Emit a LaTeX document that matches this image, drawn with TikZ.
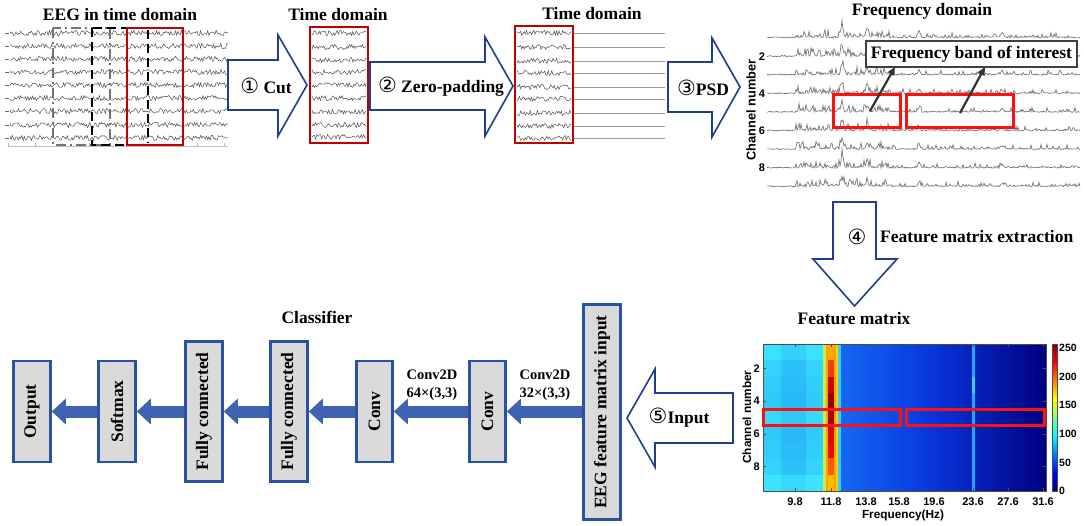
\documentclass[tikz,border=0pt]{standalone}
\usepackage{fontspec}
\setmainfont{Liberation Serif}
\setsansfont{Liberation Sans}
\newfontfamily\dejavu{DejaVu Sans}
\usetikzlibrary{arrows.meta}
\definecolor{navy}{HTML}{1F3E8E}
\definecolor{boxblue}{HTML}{2A52A3}
\definecolor{arrblue}{HTML}{3F63B0}
\definecolor{boxgray}{HTML}{DADADA}
\definecolor{darkred}{HTML}{C00000}
\definecolor{brightred}{HTML}{FF1010}
\definecolor{hmcyan}{HTML}{3CE4FF}
\definecolor{hmlb}{HTML}{1A96F2}
\definecolor{hmyg}{HTML}{C8F040}
\definecolor{hmor}{HTML}{FFA000}
\definecolor{hmortwo}{HTML}{FFD000}
\definecolor{hmred}{HTML}{F01000}
\definecolor{hmdark}{HTML}{800000}
\definecolor{hmcytwo}{HTML}{38CCFF}
\definecolor{hmbone}{HTML}{1468F4}
\definecolor{hmbtwo}{HTML}{0836DC}
\definecolor{hmbthree}{HTML}{000080}
\definecolor{hmspike}{HTML}{1EA8FF}
\definecolor{jeta}{HTML}{00008F}
\definecolor{jetb}{HTML}{0000FF}
\definecolor{jetc}{HTML}{00FFFF}
\definecolor{jetd}{HTML}{FFFF00}
\definecolor{jete}{HTML}{FF0000}
\definecolor{jetf}{HTML}{800000}
\tikzset{
 ttl/.style={font=\fontsize{17.5}{20}\selectfont\bfseries, inner sep=0pt},
 small/.style={font=\fontsize{14.5}{18}\selectfont\bfseries, inner sep=0pt, align=center},
 hollow/.style={draw=navy, line width=1.6pt, fill=white, line join=miter},
 eeg/.style={draw=black!68, line width=0.5pt},
 psd/.style={draw=black!55, line width=0.65pt},
 flat/.style={draw=black!40, line width=0.7pt},
 nnbox/.style={draw=boxblue, line width=2.6pt, fill=boxgray, inner sep=0pt, font=\fontsize{17.5}{20}\selectfont\bfseries},
 flow/.style={draw=arrblue, line width=12pt, -{Triangle[length=14pt,width=25pt]}},
 redbox/.style={draw=darkred, line width=2.2pt, inner sep=0pt},
 bandbox/.style={draw=brightred, line width=3pt, inner sep=0pt},
 axlab/.style={font=\sffamily\bfseries\fontsize{11.8}{13}\selectfont, inner sep=0pt},
 ticklab/.style={font=\sffamily\bfseries\fontsize{11}{13}\selectfont, inner sep=0pt},
 pointer/.style={draw=black!80, line width=2.2pt, -{Triangle[length=8pt,width=7pt]}},
 circnum/.style={font=\dejavu\mdseries\fontsize{21}{22}\selectfont},
}
\newcommand\cnum[1]{{\dejavu\mdseries\fontsize{21}{20}\selectfont #1}}
\begin{document}
\begin{tikzpicture}[x=1pt,y=-1pt]
\useasboundingbox (0,0) rectangle (1084,525);
\pgfmathsetseed{7}

% ---------- panel 1: EEG in time domain ----------
\node[ttl] (t1) at (120,15) {EEG in time domain};
\foreach \yy in {33,46,59,72,85,98,111,125,138}{
  \draw[eeg] plot[domain=10:228, samples=184] (\x,{\yy+2.6*rand});
  \draw[black!60, line width=0.5pt] (5,\yy) -- (9,\yy);
}
\draw[black!25, line width=0.5pt] (8,146) -- (228,146);
\foreach \xx in {8,35,62,89,116,143,170,197,224}{
  \draw[black!25, line width=0.5pt] (\xx,146) -- (\xx,143);
}
\draw[black!55, line width=1.8pt, dash pattern=on 10pt off 4pt on 2pt off 4pt] (53,28) rectangle (110,145);
\draw[black, line width=2pt, dash pattern=on 9pt off 5pt] (92,28) rectangle (127,145);
\draw[black, line width=2pt, dash pattern=on 9pt off 5pt] (148,30) -- (148,143);
\node[redbox, minimum width=56, minimum height=117] (cut1) at (155,86.5) {};

% arrow 1
\draw[hollow] (228,60) -- (278,60) -- (278,35) -- (307,85) -- (278,136) -- (278,110) -- (228,110) -- cycle;
\node[ttl] (a1) at (266,86) {\cnum{①} Cut};

% ---------- panel 2 ----------
\node[ttl] (t2) at (338,15) {Time domain};
\foreach \yy in {33,47,60,72,85,98,112,125,137}{
  \draw[eeg] plot[domain=312:366, samples=46] (\x,{\yy+2.6*rand});
}
\node[redbox, minimum width=58, minimum height=116] (cut2) at (339,85) {};

% arrow 2
\draw[hollow] (370,62) -- (485,62) -- (485,37) -- (513,86) -- (485,136) -- (485,110) -- (370,110) -- cycle;
\node[ttl] (a2) at (441,87) {\cnum{②} Zero-padding};

% ---------- panel 3 ----------
\node[ttl] (t3) at (592,14) {Time domain};
\foreach \yy in {33,47,61,73,87,99,113,126,138}{
  \draw[eeg] plot[domain=517:571, samples=46] (\x,{\yy+2.6*rand});
  \draw[flat] (573,\yy) -- (665,\yy);
}
\node[redbox, minimum width=58, minimum height=117] (cut3) at (544,84.5) {};

% arrow 3
\draw[hollow] (668,62) -- (712,62) -- (712,38) -- (740,87) -- (712,137) -- (712,112) -- (668,112) -- cycle;
\node[ttl] (a3) at (703,88) {\cnum{③}PSD};

% ---------- frequency domain ----------
\node[ttl] (t4) at (922,11) {Frequency domain};
\foreach \k/\a [evaluate=\k as \yb using {38+(\k-1)*18.6}] in {1/14,2/11,3/10,4/9,5/9,6/8,7/10,8/11,9/9}{
  \draw[psd] plot[domain=767:1080, samples=314] (\x,{\yb - 1.2*rnd - and(\x>795,\x<890)*8*rnd^3 - (\x>=890)*4.5*rnd^7 - \a*max(0,1-abs(\x-842)/2.5) - 0.6*\a*max(0,1-abs(\x-867)/2.5) - 0.5*\a*max(0,1-abs(\x-919)/2.5) - 0.35*\a*max(0,1-abs(\x-1002)/3)});
}
\node[axlab, rotate=90, font=\sffamily\bfseries\fontsize{12.8}{14}\selectfont] (psdyl) at (751,110) {Channel number};
\node[ticklab] (py2) at (762,57) {2};
\node[ticklab] (py4) at (762,94) {4};
\node[ticklab] (py6) at (762,131) {6};
\node[ticklab] (py8) at (762,168) {8};
\node[bandbox, minimum width=67, minimum height=33] (r1) at (867,111) {};
\node[bandbox, minimum width=107, minimum height=33] (r2) at (960,111) {};
\node[ttl, draw=black!75, line width=2.6pt, fill=white, minimum width=211, minimum height=26] (band) at (971.5,54) {Frequency band of interest};
\coordinate (p1) at (870,111);
\coordinate (q1) at (895,67);
\coordinate (p2) at (960,113);
\coordinate (q2) at (985,67);
\draw[pointer] (p1) -- (q1);
\draw[pointer] (p2) -- (q2);

% arrow 4
\draw[hollow] (833,202) -- (876,202) -- (876,259) -- (897,259) -- (854.5,306) -- (813,259) -- (833,259) -- cycle;
\node[inner sep=0pt, circnum] (a4n) at (857,237) {④};
\node[ttl, anchor=west] (a4) at (880,237) {Feature matrix extraction};

% ---------- feature matrix ----------
\node[ttl] (t5) at (854,319) {Feature matrix};
\shade[left color=hmbone, right color=hmbtwo] (840,344) rectangle (931,491);
\shade[left color=hmbtwo, right color=hmbthree] (930,344) rectangle (1046,491);
\foreach \r/\c/\d/\e [evaluate=\r as \ya using {344+(\r-1)*16.333}, evaluate=\r as \yc using {344+\r*16.333}, evaluate=\c as \ca using {min(100,\c+12)}, evaluate=\c as \cb using {max(0,\c-10)}] in {1/85/0/20,2/65/10/70,3/60/40/100,4/55/85/100,5/75/70/100,6/55/25/100,7/60/10/100,8/65/0/60,9/95/0/10}{
  \colorlet{midc}{hmred!\e!hmortwo}
  \fill[hmcyan!\ca!hmlb] (763,\ya) rectangle (781,\yc);
  \fill[hmcyan!\cb!hmlb] (780.5,\ya) rectangle (806,\yc);
  \fill[hmcyan!\ca!hmlb] (805.5,\ya) rectangle (823,\yc);
  \fill[hmyg] (822.5,\ya) rectangle (826.5,\yc);
  \fill[hmor] (826,\ya) rectangle (828.5,\yc);
  \fill[hmdark!\d!midc] (828,\ya) rectangle (834.5,\yc);
  \fill[hmor] (834,\ya) rectangle (836.5,\yc);
  \fill[hmortwo] (836,\ya) rectangle (838.5,\yc);
  \fill[hmcytwo] (838,\ya) rectangle (840.5,\yc);
}
\fill[hmspike] (972,344) rectangle (975,491);
\fill[hmcytwo] (972,376.7) rectangle (975,393);
\draw[black!70, line width=0.6pt] (763,344) rectangle (1046,491);
\foreach \xx/\lab [count=\i] in {795/9.8, 831/11.8, 866/13.8, 899/15.8, 934/19.6, 973/23.6, 1008/27.6, 1043/31.6}{
  \draw[black!70, line width=0.5pt] (\xx,491) -- (\xx,488);
  \draw[black!70, line width=0.5pt] (\xx,344) -- (\xx,347);
  \node[ticklab] (hx\i) at (\xx,502) {\lab};
}
\foreach \yy/\lab [count=\i] in {368.5/2, 401.2/4, 433.8/6, 466.5/8}{
  \draw[black!70, line width=0.5pt] (763,\yy) -- (766,\yy);
  \draw[black!70, line width=0.5pt] (1046,\yy) -- (1043,\yy);
  \node[ticklab, anchor=east] (hy\i) at (760,\yy) {\lab};
}
\node[axlab, rotate=90] (hmyl) at (747,417) {Channel number};
\node[axlab] (hmxl) at (903,515) {Frequency(Hz)};
\node[bandbox, minimum width=137, minimum height=16] (h1) at (832,417.5) {};
\node[bandbox, minimum width=138, minimum height=16] (h2) at (975.5,417.5) {};
% colorbar
\shade[bottom color=jeta, top color=jetb] (1052,472.6) rectangle (1057,491);
\shade[bottom color=jetb, top color=jetc] (1052,435.9) rectangle (1057,472.8);
\shade[bottom color=jetc, top color=jetd] (1052,399.1) rectangle (1057,436.1);
\shade[bottom color=jetd, top color=jete] (1052,362.4) rectangle (1057,399.3);
\shade[bottom color=jete, top color=jetf] (1052,344) rectangle (1057,362.6);
\draw[black!70, line width=0.5pt] (1052,344) rectangle (1057,491);
\foreach \v/\yy [count=\i] in {0/491,50/463,100/434,150/405,200/377,250/348}{
  \node[ticklab, anchor=west, font=\sffamily\bfseries\fontsize{10.5}{12}\selectfont] (cb\i) at (1059,\yy) {\v};
}

% arrow 5
\draw[hollow] (627,418) -- (655,369) -- (655,393) -- (733,393) -- (733,443) -- (655,443) -- (655,467) -- cycle;
\node[ttl] (a5) at (679,418) {\cnum{⑤}Input};

% ---------- classifier ----------
\node[ttl] (t6) at (317,317) {Classifier};
\node[nnbox, minimum width=37, minimum height=101] (out) at (32,411.5) {\rotatebox{90}{Output}};
\node[nnbox, minimum width=37, minimum height=101] (sm) at (117,411.5) {\rotatebox{90}{Softmax}};
\node[nnbox, minimum width=37, minimum height=140] (fc1) at (204,411.5) {\rotatebox{90}{Fully connected}};
\node[nnbox, minimum width=37, minimum height=140] (fc2) at (289,411.5) {\rotatebox{90}{Fully connected}};
\node[nnbox, minimum width=36, minimum height=101] (cv1) at (374.5,411.5) {\rotatebox{90}{Conv}};
\node[nnbox, minimum width=36, minimum height=101] (cv2) at (487.5,411.5) {\rotatebox{90}{Conv}};
\node[nnbox, minimum width=37, minimum height=215] (inp) at (602,412) {\rotatebox{90}{EEG feature matrix input}};
\draw[flow] (sm.west) -- (out.east);
\draw[flow] (fc1.west) -- (sm.east);
\draw[flow] (fc2.west) -- (fc1.east);
\draw[flow] (cv1.west) -- (fc2.east);
\draw[flow] (cv2.west) -- (cv1.east);
\draw[flow] (inp.west |- cv2.east) -- (cv2.east);
\node[small] (l1) at (432,385) {Conv2D\\64×(3,3)};
\node[small] (l2) at (545,385) {Conv2D\\32×(3,3)};
\end{tikzpicture}
\end{document}
